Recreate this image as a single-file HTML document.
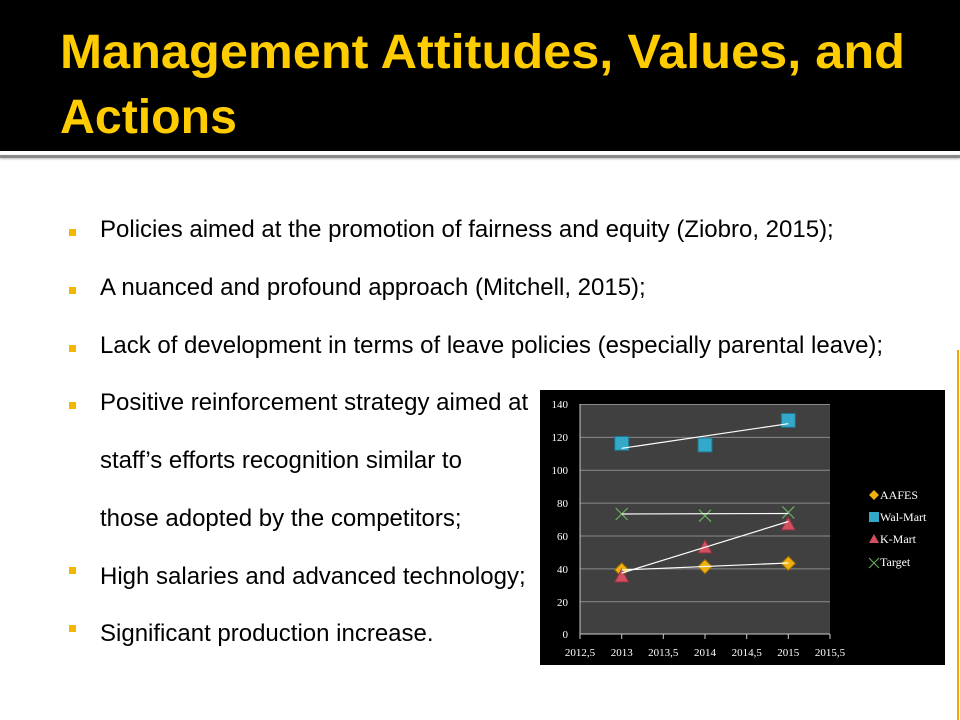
<!DOCTYPE html>
<html><head><meta charset="utf-8"><style>
body{margin:0;width:960px;height:720px;background:#fff;position:relative;overflow:hidden;font-family:"Liberation Sans",Arial,sans-serif}
.hdr{position:absolute;left:0;top:0;width:960px;height:151px;background:#000}
.rule{position:absolute;left:0;top:155px;width:960px;height:3px;background:#888;box-shadow:0 1px 2px #bbb}
.vr{position:absolute;left:957px;top:350px;width:2px;height:370px;background:#f0a800}
.b{position:absolute;left:100px;font-size:24px;line-height:28px;color:#000;white-space:nowrap}
.sq{position:absolute;left:69px;width:7px;height:7px;background:#f2b800}
</style></head><body>
<div class="hdr"></div>
<svg style="position:absolute;left:0;top:0" width="960" height="151">
<text x="60" y="68" fill="#ffcc00" font-family="Liberation Sans, sans-serif" font-weight="bold" font-size="48" textLength="845" lengthAdjust="spacingAndGlyphs">Management Attitudes, Values, and</text>
<text x="60" y="133" fill="#ffcc00" font-family="Liberation Sans, sans-serif" font-weight="bold" font-size="48" textLength="177" lengthAdjust="spacingAndGlyphs">Actions</text>
</svg>
<div class="rule"></div>
<div class="vr"></div>
<div class="sq" style="top:229px"></div><div class="b" style="top:216px">Policies aimed at the promotion of fairness and equity (Ziobro, 2015);</div>
<div class="sq" style="top:287px"></div><div class="b" style="top:274px">A nuanced and profound approach (Mitchell, 2015);</div>
<div class="sq" style="top:345px"></div><div class="b" style="top:332px">Lack of development in terms of leave policies (especially parental leave);</div>
<div class="sq" style="top:402px"></div><div class="b" style="top:389px">Positive reinforcement strategy aimed at</div>
<div class="b" style="top:447px">staff’s efforts recognition similar to</div>
<div class="b" style="top:505px">those adopted by the competitors;</div>
<div class="sq" style="top:567px"></div><div class="b" style="top:563px">High salaries and advanced technology;</div>
<div class="sq" style="top:625px"></div><div class="b" style="top:620px">Significant production increase.</div>
<svg style="position:absolute;left:540px;top:390px" width="405" height="275" font-family="Liberation Serif, serif" font-size="11" fill="#fff">
<rect width="405" height="275" fill="#000"/>
<rect x="40" y="14" width="250" height="230" fill="#404040"/>
<g stroke="#8a8a8a" stroke-width="1">
<line x1="40" x2="290" y1="14.5" y2="14.5"/><line x1="40" x2="290" y1="47.4" y2="47.4"/><line x1="40" x2="290" y1="80.3" y2="80.3"/><line x1="40" x2="290" y1="113.1" y2="113.1"/><line x1="40" x2="290" y1="146" y2="146"/><line x1="40" x2="290" y1="178.9" y2="178.9"/><line x1="40" x2="290" y1="211.7" y2="211.7"/>
</g>
<g stroke="#ccc"><line x1="40" x2="290" y1="244" y2="244"/><line x1="40" x2="40" y1="14" y2="244"/>
<line x1="40" x2="40" y1="244" y2="249"/><line x1="81.7" x2="81.7" y1="244" y2="249"/><line x1="123.3" x2="123.3" y1="244" y2="249"/><line x1="165" x2="165" y1="244" y2="249"/><line x1="206.7" x2="206.7" y1="244" y2="249"/><line x1="248.3" x2="248.3" y1="244" y2="249"/><line x1="290" x2="290" y1="244" y2="249"/></g>
<g text-anchor="end"><text x="28" y="18">140</text><text x="28" y="51">120</text><text x="28" y="84">100</text><text x="28" y="117">80</text><text x="28" y="150">60</text><text x="28" y="183">40</text><text x="28" y="216">20</text><text x="28" y="248">0</text></g>
<g text-anchor="middle"><text x="40" y="266">2012,5</text><text x="81.7" y="266">2013</text><text x="123.3" y="266">2013,5</text><text x="165" y="266">2014</text><text x="206.7" y="266">2014,5</text><text x="248.3" y="266">2015</text><text x="290" y="266">2015,5</text></g>
<g fill="#34a8c8" stroke="#1e6f88"><rect x="74.7" y="46.4" width="14" height="14"/><rect x="158" y="48" width="14" height="14"/><rect x="241.3" y="23.4" width="14" height="14"/></g>
<g fill="#f0b010" stroke="#a07000"><path d="M81.7 172.9l7 7-7 7-7-7z"/><path d="M165 169.6l7 7-7 7-7-7z"/><path d="M248.3 166.4l7 7-7 7-7-7z"/></g>
<g fill="#d05060" stroke="#903040"><path d="M81.7 179l7 13h-14z"/><path d="M165 150l7 13h-14z"/><path d="M248.3 127l7 13h-14z"/></g>
<g stroke="#6cb060" stroke-width="1.2"><path d="M75.7 118l12 12M87.7 118l-12 12"/><path d="M159 119.7l12 12M171 119.7l-12 12"/><path d="M242.3 116.4l12 12M254.3 116.4l-12 12"/></g>
<g stroke="#fff" stroke-width="1.2">
<line x1="81.7" y1="58.3" x2="248.3" y2="33.7"/>
<line x1="81.7" y1="124" x2="248.3" y2="123.5"/>
<line x1="81.7" y1="183" x2="248.3" y2="131.5"/>
<line x1="81.7" y1="180" x2="248.3" y2="173"/>
</g>
<g font-size="12">
<path d="M334 100l5 5-5 5-5-5z" fill="#f0b010"/><text x="340" y="109">AAFES</text>
<rect x="329" y="122" width="10" height="10" fill="#34a8c8"/><text x="340" y="131">Wal-Mart</text>
<path d="M334 144l5 9h-10z" fill="#d05060"/><text x="340" y="153">K-Mart</text>
<path d="M329 168l10 10M339 168l-10 10" stroke="#6cb060"/><text x="340" y="176">Target</text>
</g>
</svg>
</body></html>
